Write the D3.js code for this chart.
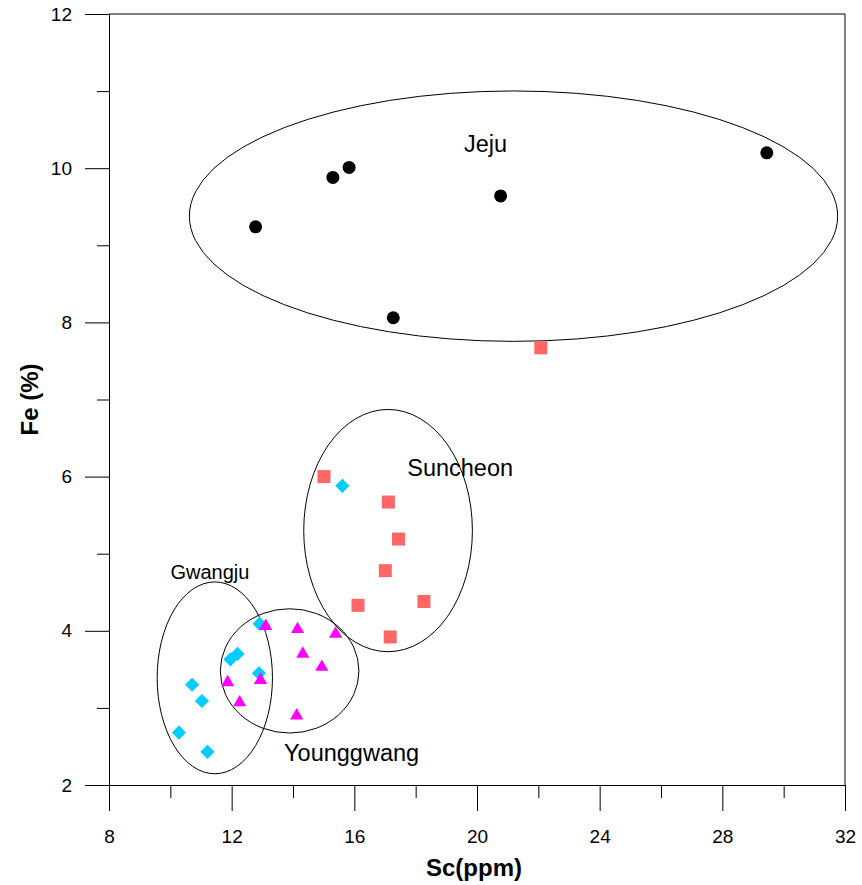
<!DOCTYPE html>
<html>
<head>
<meta charset="utf-8">
<script src="https://cdn.jsdelivr.net/npm/d3@7"></script>
<style>
  body { margin: 0; background: #fff; }
  svg { display: block; font-family: Arial, "Liberation Sans", sans-serif; }
</style>
</head>
<body>
<svg id="chart" width="862" height="885"></svg>
<script>
// Sc (ppm) vs Fe (%) by region
var jejuSc = [12.78, 15.30, 15.83, 20.77, 17.27, 29.45];
var jejuFe = [9.24, 9.88, 10.01, 9.64, 8.06, 10.20];

var suncheonSc = [15.01, 17.11, 17.44, 17.01, 16.12, 18.27, 17.17, 22.08];
var suncheonFe = [6.00, 5.67, 5.19, 4.78, 4.33, 4.38, 3.92, 7.67];

var gwangjuSc = [12.91, 11.96, 12.19, 12.89, 10.71, 11.03, 10.28, 11.21, 15.61];
var gwangjuFe = [4.09, 3.63, 3.70, 3.45, 3.30, 3.09, 2.68, 2.43, 5.88];

var younggwangSc = [13.11, 14.15, 15.39, 14.32, 14.94, 11.87, 12.94, 12.26, 14.12];
var younggwangFe = [4.06, 4.02, 3.96, 3.70, 3.53, 3.33, 3.36, 3.07, 2.90];

// group ellipses: centre and radii in data units
var groupNames = ["Jeju", "Suncheon", "Gwangju", "Younggwang"];
var groupCx = [21.19, 17.10, 11.45, 13.89];
var groupCy = [9.378, 5.30, 3.39, 3.48];
var groupRx = [10.57, 2.75, 1.88, 2.26];
var groupRy = [1.624, 1.571, 1.244, 0.806];
var labelSc = [20.28, 19.45, 11.29, 15.91];
var labelFe = [10.32, 6.12, 4.76, 2.42];

var xMajor = [8, 12, 16, 20, 24, 28, 32];
var xMinor = [10, 14, 18, 22, 26, 30];
var yMajor = [2, 4, 6, 8, 10, 12];
var yMinor = [3, 5, 7, 9, 11];

var svg = d3.select("#chart");
var mLeft = 109, mRight = 845, mTop = 14, mBottom = 785;

var x = d3.scaleLinear().domain([8, 32]).range([mLeft, mRight]);
var y = d3.scaleLinear().domain([2, 12]).range([mBottom, mTop]);

// frame (top and right)
svg.append("path")
  .attr("d", "M" + x(8) + "," + y(12) + "H" + x(32) + "V" + y(2))
  .attr("fill", "none").attr("stroke", "#000").attr("stroke-width", 1);

// y axis
svg.append("g").attr("transform", "translate(" + mLeft + ",0)")
  .call(d3.axisLeft(y).tickValues(yMajor).tickSize(24).tickSizeOuter(0).tickPadding(13).tickFormat(d3.format("d")));
svg.append("g").attr("transform", "translate(" + mLeft + ",0)")
  .call(d3.axisLeft(y).tickValues(yMinor).tickSize(12).tickSizeOuter(0).tickFormat(""));

// x axis
svg.append("g").attr("transform", "translate(0," + mBottom + ")")
  .call(d3.axisBottom(x).tickValues(xMajor).tickSize(26).tickSizeOuter(0).tickPadding(19).tickFormat(d3.format("d")));
svg.append("g").attr("transform", "translate(0," + mBottom + ")")
  .call(d3.axisBottom(x).tickValues(xMinor).tickSize(13).tickSizeOuter(0).tickFormat(""));

svg.selectAll("g").attr("font-family", null).attr("font-size", null);
svg.selectAll(".tick line, .domain").attr("stroke", "#000");
svg.selectAll(".tick text").style("font-size", "19px").attr("fill", "#000");

// axis titles
svg.append("text").attr("x", (mLeft + mRight) / 2 - 3).attr("y", 876)
  .attr("text-anchor", "middle").style("font-size", "24px").attr("font-weight", "bold")
  .text("Sc(ppm)");
svg.append("text")
  .attr("transform", "translate(38," + ((mTop + mBottom) / 2) + ") rotate(-90)")
  .attr("text-anchor", "middle").style("font-size", "24px").attr("font-weight", "bold")
  .text("Fe (%)");

// ellipses
var kx = x(1) - x(0), ky = y(0) - y(1);
groupNames.forEach(function(n, i) {
  svg.append("ellipse")
    .attr("cx", x(groupCx[i])).attr("cy", y(groupCy[i]))
    .attr("rx", groupRx[i] * kx).attr("ry", groupRy[i] * ky)
    .attr("fill", "none").attr("stroke", "#000").attr("stroke-width", 1);
  svg.append("text")
    .attr("x", x(labelSc[i])).attr("y", y(labelFe[i]))
    .attr("text-anchor", "middle").attr("dy", "0.35em")
    .style("font-size", n == "Gwangju" ? "20px" : "23.5px")
    .text(n);
});

function pts(xs, ys) { return xs.map(function(v, i) { return [v, ys[i]]; }); }

// Jeju: black circles
svg.append("g").selectAll("circle").data(pts(jejuSc, jejuFe)).enter().append("circle")
  .attr("cx", function(d) { return x(d[0]); })
  .attr("cy", function(d) { return y(d[1]); })
  .attr("r", 6.5).attr("fill", "#000");

// Suncheon: salmon squares
svg.append("g").selectAll("path").data(pts(suncheonSc, suncheonFe)).enter().append("path")
  .attr("transform", function(d) { return "translate(" + x(d[0]) + "," + y(d[1]) + ")"; })
  .attr("d", d3.symbol().type(d3.symbolSquare).size(169))
  .attr("fill", "#ff6666");

// Gwangju: cyan diamonds
svg.append("g").selectAll("path").data(pts(gwangjuSc, gwangjuFe)).enter().append("path")
  .attr("transform", function(d) { return "translate(" + x(d[0]) + "," + y(d[1]) + ") rotate(45)"; })
  .attr("d", d3.symbol().type(d3.symbolSquare).size(100))
  .attr("fill", "#00ccff");

// Younggwang: magenta triangles
svg.append("g").selectAll("path").data(pts(younggwangSc, younggwangFe)).enter().append("path")
  .attr("transform", function(d) { return "translate(" + x(d[0]) + "," + y(d[1]) + ")"; })
  .attr("d", d3.symbol().type(d3.symbolTriangle).size(75))
  .attr("fill", "#ff00ff");
</script>
</body>
</html>
